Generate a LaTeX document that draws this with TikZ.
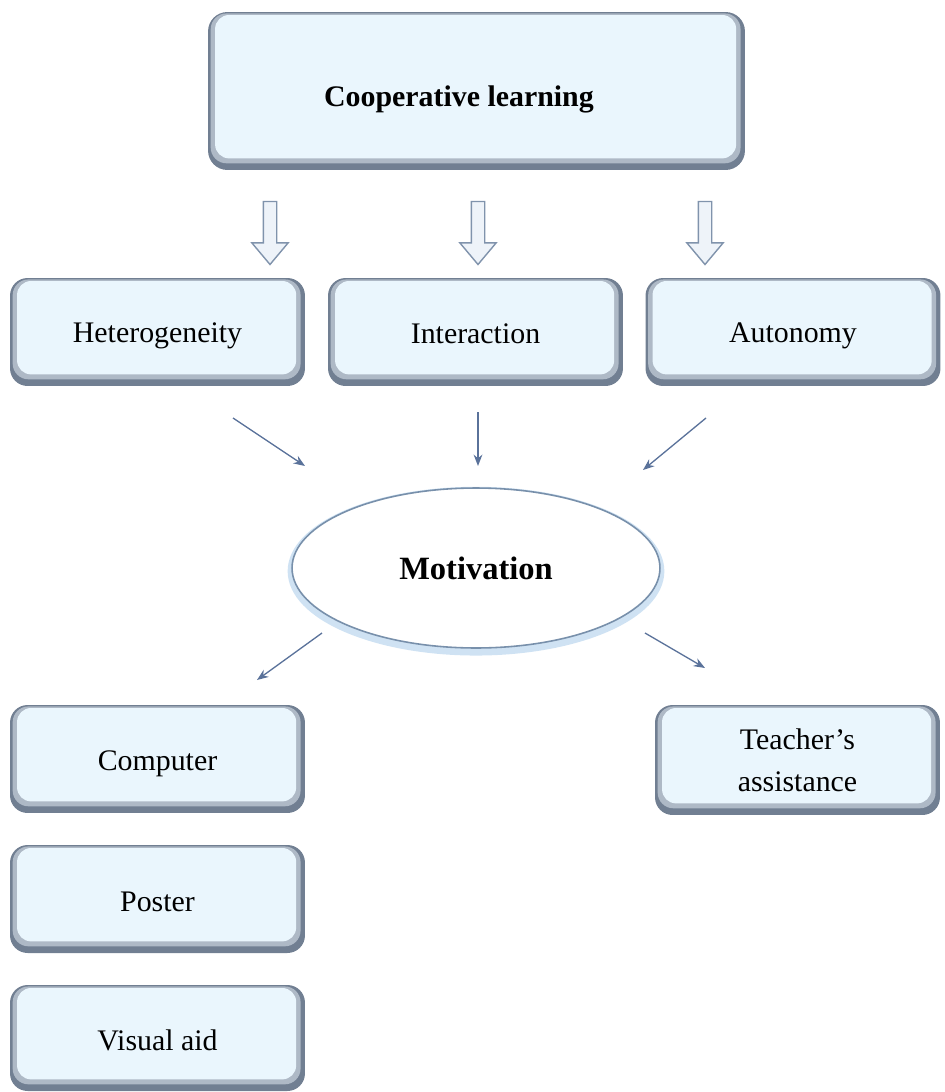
\documentclass[tikz,border=0pt]{standalone}
\usepackage{fontspec}
\setmainfont{Liberation Serif}
\usetikzlibrary{shapes.geometric,shapes.arrows,arrows.meta}
\definecolor{face}{HTML}{EAF6FD}
\definecolor{rim}{HTML}{717F92}
\definecolor{rimlight}{HTML}{AEB9C6}
\definecolor{linkblue}{HTML}{5A729A}
\definecolor{hollowedge}{HTML}{8093AC}
\definecolor{hollowfill}{HTML}{EEF3F9}
\definecolor{ringedge}{HTML}{7890AB}
\definecolor{glow}{HTML}{CFE2F3}
\newcommand{\lowered}[2]{\raisebox{-#1}[\height][\depth]{#2}}
\tikzset{
  bevel/.style={rounded corners=10pt, fill=rim, inner sep=0pt, align=center,
    font=\fontsize{17}{24}\selectfont,
    path picture={
      \fill[rimlight, rounded corners=9pt]
        ([xshift=1.5pt,yshift=-0.8pt]path picture bounding box.north west) rectangle
        ([xshift=-2.5pt,yshift=3.8pt]path picture bounding box.south east);
      \fill[face, rounded corners=8pt]
        ([xshift=4pt,yshift=-1.7pt]path picture bounding box.north west) rectangle
        ([xshift=-5pt,yshift=6.6pt]path picture bounding box.south east);
    }},
  hollow/.style={single arrow, draw=hollowedge, fill=hollowfill, line width=0.8pt,
    inner sep=0.12cm, single arrow head extend=0.23cm, single arrow tip angle=80,
    minimum height=1.26cm, rotate=-90},
  link/.style={draw=linkblue, line width=0.75pt, -{Stealth[length=6.5pt,width=5pt]}},
  ring/.style={ellipse, fill=white, draw=ringedge, line width=0.9pt,
    font=\bfseries\fontsize{18.5}{22}\selectfont,
    preaction={draw=glow, line width=5pt, transform canvas={yshift=-1.8pt}}}
}
\begin{document}
\begin{tikzpicture}[x=0.02cm,y=-0.02cm]
\useasboundingbox (0,0) rectangle (944,1092);

% top concept
\node[bevel, rounded corners=11pt, minimum width=10.74cm, minimum height=3.16cm,
      font=\bfseries\fontsize{17}{21}\selectfont] (coop) at (476.5,91)
      {\hspace*{-20pt}\lowered{5pt}{Cooperative learning}};

% hollow arrows down to the three components
\node[hollow] (h1) at (270,229) {};
\node[hollow] (h2) at (478,229) {};
\node[hollow] (h3) at (705,229) {};

% three components
\node[bevel, minimum width=5.9cm, minimum height=2.16cm] (het) at (157.5,332) {\lowered{2pt}{Heterogeneity}};
\node[bevel, minimum width=5.9cm, minimum height=2.16cm] (inter) at (475.5,332) {\lowered{1pt}{Interaction}};
\node[bevel, minimum width=5.9cm, minimum height=2.16cm] (auto) at (793,332) {\lowered{2pt}{Autonomy}};

% motivation
\node[ring, minimum width=7.36cm, minimum height=3.2cm] (mot) at (476,568) {Motivation};

% resources
\node[bevel, minimum width=5.9cm, minimum height=2.16cm] (comp) at (157.5,759) {\lowered{3pt}{Computer}};
\node[bevel, minimum width=5.9cm, minimum height=2.16cm] (post) at (157.5,899) {\lowered{1.5pt}{Poster}};
\node[bevel, minimum width=5.9cm, minimum height=2.12cm] (vis) at (157.5,1038) {\lowered{1.5pt}{Visual aid}};
\node[bevel, minimum width=5.7cm, minimum height=2.2cm] (teach) at (797.5,760) {Teacher's\\assistance};

% thin connectors
\coordinate (a1s) at (233,418); \coordinate (a1e) at (305,466);
\coordinate (a2s) at (478,412); \coordinate (a2e) at (478,466);
\coordinate (a3s) at (706,418); \coordinate (a3e) at (643,470);
\coordinate (b1s) at (322,633); \coordinate (b1e) at (257,680);
\coordinate (b2s) at (645,633); \coordinate (b2e) at (705,668);
\draw[link] (a1s) -- (a1e);
\draw[link] (a2s) -- (a2e);
\draw[link] (a3s) -- (a3e);
\draw[link] (b1s) -- (b1e);
\draw[link] (b2s) -- (b2e);
\end{tikzpicture}
\end{document}
